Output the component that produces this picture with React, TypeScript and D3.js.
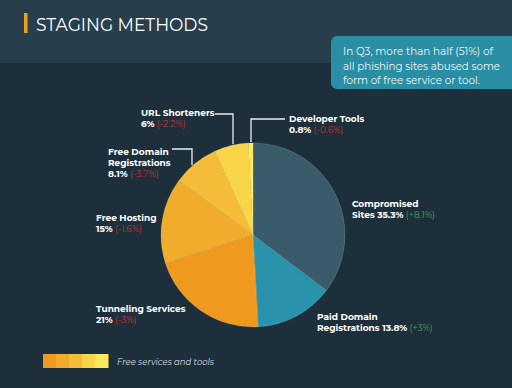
import React, { useEffect, useRef } from 'react';
import * as d3 from 'd3';

const categories = [
  'Compromised Sites',
  'Paid Domain Registrations',
  'Tunneling Services',
  'Free Hosting',
  'Free Domain Registrations',
  'URL Shorteners',
  'Developer Tools',
];
const shares = [35.3, 13.8, 21, 15, 8.1, 6, 0.8];
const changes = ['+8.1%', '+3%', '-3%', '-1.6%', '-3.7%', '-2.2%', '-0.6%'];
const sliceColors = ['#395b6a', '#2a92ab', '#ef9a1f', '#f2ac2b', '#f5bd37', '#f9d548', '#fde95c'];
const legendColors = ['#ef9a1f', '#f2ac2b', '#f5bd37', '#f9d548', '#fde95c'];
const calloutLines = ['In Q3, more than half (51%) of', 'all phishing sites abused some', 'form of free service or tool.'];

// label layout: lines of the name, then share + change
const labelLayout = [
  { x: 352, y: 207, lines: ['Compromised', 'Sites'], inline: true },
  { x: 317, y: 320, lines: ['Paid Domain', 'Registrations'], inline: true },
  { x: 96, y: 312, lines: ['Tunneling Services'], inline: false },
  { x: 96, y: 221, lines: ['Free Hosting'], inline: false },
  { x: 108, y: 155, lines: ['Free Domain', 'Registrations'], inline: false },
  { x: 141, y: 116, lines: ['URL Shorteners'], inline: false },
  { x: 289, y: 122, lines: ['Developer Tools'], inline: false },
];

const App = () => {
  const ref = useRef<SVGSVGElement>(null);

  useEffect(() => {
    const svg = d3.select(ref.current);
    svg.selectAll('*').remove();
    const W = 512, H = 388;
    const font = 'Montserrat, "Open Sans", Lato, sans-serif';

    svg.append('rect').attr('width', W).attr('height', H).attr('fill', '#1e2f3c');
    svg.append('rect').attr('width', W).attr('height', 63).attr('fill', '#273f4c');

    // title
    svg.append('rect').attr('x', 24).attr('y', 13).attr('width', 3.5).attr('height', 20).attr('fill', '#f0a020');
    svg.append('text').attr('x', 36).attr('y', 30.5).text('STAGING METHODS')
      .attr('fill', '#ffffff').style('font-family', font).style('font-size', '19px')
      .attr('textLength', 172).attr('lengthAdjust', 'spacingAndGlyphs');

    // callout
    svg.append('rect').attr('x', 331).attr('y', 36).attr('width', 200).attr('height', 53).attr('rx', 6)
      .attr('fill', '#2a8ea5');
    const calloutWidths = [150, 157, 137];
    calloutLines.forEach((t, i) => {
      svg.append('text').attr('x', 343).attr('y', 55 + i * 14.5).text(t)
        .attr('fill', '#eef6f8').style('font-family', font).style('font-size', '11px')
        .attr('textLength', calloutWidths[i]).attr('lengthAdjust', 'spacingAndGlyphs');
    });

    // pie
    const cx = 253, cy = 235, r = 92;
    const pie = d3.pie<number>().sort(null).value(d => d);
    const arc = d3.arc<d3.PieArcDatum<number>>().innerRadius(0).outerRadius(r);
    const g = svg.append('g').attr('transform', `translate(${cx},${cy})`);
    g.selectAll('path').data(pie(shares)).enter().append('path')
      .attr('d', arc)
      .attr('fill', (_, i) => sliceColors[i])
      .attr('stroke', 'rgba(255,255,255,0.25)')
      .attr('stroke-width', 0.6);

    // leader lines
    const edgeY = (x: number) => cy - Math.sqrt(r * r - (x - cx) * (x - cx));
    const leaders = [
      [[215, 114], [233, 114], [233, edgeY(233) - 1]],
      [[285, 119], [251, 119], [251, edgeY(251) - 1]],
      [[172, 149], [192, 149], [192, edgeY(192) - 1]],
    ];
    leaders.forEach(pts => {
      svg.append('path').attr('d', d3.line()(pts as [number, number][]))
        .attr('fill', 'none').attr('stroke', '#e8eef0').attr('stroke-width', 1.3);
    });

    // labels
    const changeColor = (c: string) => (c.startsWith('+') ? '#3fa556' : '#c8313a');
    categories.forEach((c, i) => {
      const L = labelLayout[i];
      const t = svg.append('g').style('font-family', font).style('font-size', '9px').style('font-weight', 700);
      const lh = 10.8;
      L.lines.forEach((line, j) => {
        const isLast = j === L.lines.length - 1;
        const tx = t.append('text').attr('x', L.x).attr('y', L.y + j * lh).attr('fill', '#ffffff');
        tx.append('tspan').text(line);
        if (L.inline && isLast) {
          tx.append('tspan').text(` ${shares[i]}%`);
          tx.append('tspan').text(` (${changes[i]})`).attr('fill', changeColor(changes[i])).style('font-weight', 400);
        }
      });
      if (!L.inline) {
        const tx = t.append('text').attr('x', L.x).attr('y', L.y + L.lines.length * lh).attr('fill', '#ffffff');
        tx.append('tspan').text(`${shares[i]}%`);
        tx.append('tspan').text(` (${changes[i]})`).attr('fill', changeColor(changes[i])).style('font-weight', 400);
      }
    });

    // legend
    const lx = d3.scaleBand<number>().domain(d3.range(legendColors.length)).range([43, 108]).padding(0);
    svg.append('g').selectAll('rect').data(legendColors).enter().append('rect')
      .attr('x', (_, i) => lx(i)!).attr('y', 354).attr('width', lx.bandwidth() + 0.5).attr('height', 14)
      .attr('fill', d => d);
    svg.append('text').attr('x', 117).attr('y', 364.5).text('Free services and tools')
      .attr('fill', '#d8dee2').style('font-family', font).style('font-size', '9.5px').style('font-style', 'italic')
      .attr('textLength', 97).attr('lengthAdjust', 'spacingAndGlyphs');
  }, []);

  return (
    <svg ref={ref} width={512} height={388} style={{ position: 'absolute', left: 0, top: 0, display: 'block' }} />
  );
};

export default App;
